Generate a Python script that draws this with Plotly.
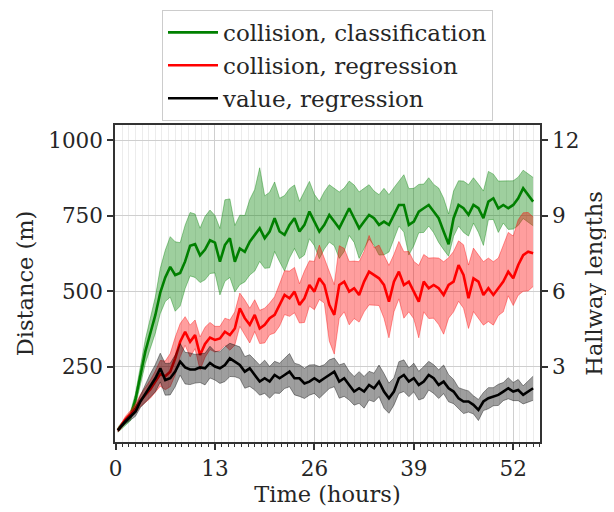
import plotly.graph_objects as go

# ---- data ----
hours = [0.3, 0.65, 1.3, 1.95, 2.6, 3.25, 3.9, 4.55, 5.2, 5.85, 6.5, 7.15, 7.8, 8.45, 9.1, 9.75,
         10.4, 11.05, 11.7, 12.35, 13.0, 13.65, 14.3, 14.95, 15.6, 16.25, 16.9, 17.55, 18.2, 18.85,
         19.5, 20.15, 20.8, 21.45, 22.1, 22.75, 23.4, 24.05, 24.7, 25.35, 26.0, 26.65, 27.3, 27.95,
         28.6, 29.25, 29.9, 30.55, 31.2, 31.85, 32.5, 33.15, 33.8, 34.45, 35.1, 35.75, 36.4, 37.05,
         37.7, 38.35, 39.0, 39.65, 40.3, 40.95, 41.6, 42.25, 42.9, 43.55, 44.2, 44.85, 45.5, 46.15,
         46.8, 47.45, 48.1, 48.75, 49.4, 50.05, 50.7, 51.35, 52.0, 52.65, 53.3, 53.95, 54.6]

green_mean = [40, 50, 65, 85, 140, 225, 300, 360, 420, 495, 545, 580, 553, 560, 598, 650, 655, 618, 637, 668, 660,
              597, 652, 675, 597, 641, 630, 663, 686, 708, 675, 697, 741, 697, 686, 719, 741, 697, 719, 763, 730, 697, 719,
              752, 730, 708, 741, 774, 741, 708, 730, 752, 741, 719, 730, 719, 752, 785, 785, 719, 730, 763, 774, 785,
              763, 741, 697, 655, 741, 785, 774, 752, 785, 774, 741, 796, 807, 774, 785, 774, 785, 807, 840, 818, 796]
green_up = [8, 10, 12, 15, 20, 30, 40, 50, 60,
            80, 90, 100, 110, 100, 120, 110, 100, 90, 110, 100, 90,
            110, 150, 130, 120, 110, 120, 140, 150, 200, 140, 130, 120, 110, 130, 120, 110, 100, 110, 100, 90, 100, 110,
            100, 110, 120, 100, 90, 110, 120, 110, 100, 90, 100, 110, 100, 90, 80, 100, 120, 110, 90, 80, 90,
            90, 100, 110, 100, 90, 80, 90, 100, 90, 80, 90, 100, 80, 90, 80, 90, 80, 70, 60, 70, 80]
green_down = [8, 10, 12, 15, 20, 30, 40, 50, 60,
              70, 80, 100, 120, 110, 90, 100, 110, 90, 100, 110, 100,
              110, 120, 130, 100, 120, 100, 110, 120, 110, 100, 120, 110, 100, 120, 110, 100, 90, 100, 90, 80, 90, 80,
              90, 80, 100, 110, 90, 80, 100, 90, 80, 90, 100, 110, 90, 80, 70, 90, 100, 80, 70, 80, 70,
              70, 80, 60, 40, 60, 70, 80, 70, 60, 80, 90, 60, 70, 80, 60, 70, 80, 90, 100, 90, 80]

red_mean = [38, 50, 75, 92, 111, 137, 156, 175, 200, 225, 218, 233, 277, 332, 365, 332, 354, 288, 325, 346, 338,
            343, 365, 354, 376, 443, 410, 388, 421, 376, 388, 410, 421, 454, 487, 476, 498, 454, 476, 520, 498, 542, 520,
            454, 421, 520, 531, 498, 509, 487, 531, 564, 553, 542, 520, 465, 531, 564, 520, 531, 498, 465, 531, 509,
            520, 509, 487, 520, 531, 586, 553, 476, 542, 531, 487, 509, 487, 509, 531, 564, 542, 586, 619, 630, 625]
red_up = [5, 8, 10, 12, 15, 20, 25, 30, 35,
          45, 50, 60, 70, 60, 50, 55, 50, 60, 55, 50, 45,
          40, 45, 50, 55, 50, 60, 55, 50, 60, 55, 50, 60, 70, 80, 90, 80, 70, 90, 80, 100, 110, 90,
          110, 100, 130, 110, 100, 90, 110, 100, 120, 90, 110, 100, 120, 90, 100, 110, 100, 100, 120, 90, 100,
          90, 100, 110, 90, 100, 80, 100, 110, 100, 90, 110, 100, 110, 100, 120, 130, 140, 150, 140, 130, 120]
red_down = [5, 8, 10, 12, 15, 20, 25, 30, 35,
            40, 45, 50, 55, 50, 45, 50, 45, 50, 45, 40, 40,
            40, 45, 50, 55, 60, 55, 60, 55, 50, 60, 55, 60, 70, 65, 60, 70, 60, 80, 70, 60, 70, 60,
            120, 130, 110, 100, 110, 100, 90, 100, 110, 100, 90, 110, 120, 100, 90, 110, 100, 90, 120, 100, 100,
            110, 120, 130, 110, 100, 120, 110, 100, 110, 120, 100, 110, 100, 90, 100, 80, 90, 100, 120, 130, 110]

black_mean = [38, 50, 68, 83, 100, 134, 161, 186, 211, 244, 205, 211, 233, 266, 247, 240, 240, 247, 244, 262, 250,
              244, 255, 277, 266, 255, 233, 244, 222, 200, 211, 200, 222, 211, 222, 233, 211, 211, 194, 200, 211, 200, 211,
              222, 233, 200, 211, 189, 167, 178, 167, 189, 178, 200, 167, 145, 167, 211, 222, 200, 211, 189, 200, 222,
              211, 189, 200, 178, 167, 145, 134, 134, 123, 106, 134, 145, 150, 156, 167, 178, 167, 172, 156, 167, 178]
black_up = [5, 6, 8, 10, 15, 20, 30, 40, 45,
            50, 55, 50, 55, 60, 50, 55, 50, 45, 50, 55, 50,
            55, 60, 50, 55, 60, 50, 45, 50, 55, 60, 50, 45, 50, 55, 60, 50, 45, 50, 55, 45, 50, 45,
            50, 45, 55, 50, 45, 50, 55, 50, 45, 50, 55, 60, 50, 45, 55, 50, 45, 50, 45, 50, 45,
            45, 50, 55, 45, 40, 35, 40, 35, 30, 35, 30, 35, 30, 35, 30, 35, 30, 35, 30, 35, 40]
black_down = [5, 6, 8, 10, 15, 20, 30, 40, 45,
              45, 50, 55, 50, 45, 55, 50, 45, 50, 55, 50, 45,
              50, 55, 60, 50, 45, 55, 60, 50, 45, 50, 55, 60, 50, 45, 50, 55, 60, 50, 45, 50, 55, 50,
              45, 50, 55, 60, 50, 45, 50, 55, 50, 45, 50, 55, 50, 45, 50, 55, 50, 45, 50, 55, 50,
              50, 45, 40, 45, 40, 35, 40, 35, 30, 35, 30, 35, 30, 35, 30, 35, 30, 35, 30, 35, 40]

series_names = ["collision, classification", "collision, regression", "value, regression"]
x_ticks = [0, 13, 26, 39, 52]
y_ticks = [250, 500, 750, 1000]
y2_ticks = [3, 6, 9, 12]
hallway_length_m = 1000 / 12

FONT = "DejaVu Serif"
FS_TICK = 21.5
FS_TITLE = 22.5
FS_LEG = 23

fig = go.Figure()

groups = [
    (series_names[0], green_mean, green_up, green_down, "#008000", "rgba(0,128,0,0.38)"),
    (series_names[1], red_mean, red_up, red_down, "#ff0000", "rgba(255,0,0,0.38)"),
    (series_names[2], black_mean, black_up, black_down, "#000000", "rgba(0,0,0,0.38)"),
]
for name, mean, up, down, col, fillcol in groups:
    assert len(mean) == len(up) == len(down) == len(hours)
    lower = [m - d for m, d in zip(mean, down)]
    upper = [m + u for m, u in zip(mean, up)]
    fig.add_trace(go.Scatter(x=hours, y=lower, mode="lines", line=dict(color=fillcol, width=1),
                             showlegend=False, hoverinfo="skip"))
    fig.add_trace(go.Scatter(x=hours, y=upper, mode="lines", line=dict(color=fillcol, width=1),
                             fill="tonexty", fillcolor=fillcol, showlegend=False, hoverinfo="skip"))
    fig.add_trace(go.Scatter(x=hours, y=mean, mode="lines", name=name, line=dict(color=col, width=2.6)))

# invisible trace so the secondary (hallway-length) axis is drawn
fig.add_trace(go.Scatter(x=hours[:1], y=[hours[0] * 0], yaxis="y2", mode="lines",
                         showlegend=False, hoverinfo="skip"))

y_top = 1049.7
axis_common = dict(showline=True, linecolor="#333333", linewidth=1.5, ticks="outside",
                   ticklen=6, tickwidth=1.5, tickcolor="#333333", automargin=False,
                   tickfont=dict(family=FONT, size=FS_TICK, color="#262626"), zeroline=False)

fig.update_layout(
    width=606, height=504,
    margin=dict(l=107, r=74, t=117, b=70, autoexpand=False),
    paper_bgcolor="white", plot_bgcolor="white",
    font=dict(family=FONT, size=FS_TICK, color="#262626"),
    xaxis=dict(range=[-0.07, 55.5], tickvals=x_ticks, mirror=True, showgrid=True,
               gridcolor="#cfcfcf", gridwidth=1,
               minor=dict(dtick=13 / 15, tick0=0, ticks="outside", ticklen=3, tickwidth=1,
                          tickcolor="#333333", showgrid=True, gridcolor="#ececec", gridwidth=1),
               title=dict(text="Time (hours)", font=dict(family=FONT, size=FS_TITLE), standoff=6),
               **axis_common),
    yaxis=dict(range=[0, y_top], tickvals=y_ticks, showgrid=True, gridcolor="#cfcfcf",
               title=dict(text="Distance (m)", font=dict(family=FONT, size=FS_TITLE), standoff=8),
               **axis_common),
    yaxis2=dict(range=[0, y_top / hallway_length_m], tickvals=y2_ticks, overlaying="y", side="right",
                showgrid=False,
                title=dict(text="Hallway lengths", font=dict(family=FONT, size=FS_TITLE), standoff=8),
                **axis_common),
    legend=dict(x=0.5, xanchor="center", y=1.363, yanchor="top", bgcolor="white",
                traceorder="normal", itemwidth=50,
                bordercolor="#cccccc", borderwidth=1, font=dict(family=FONT, size=FS_LEG, color="#262626")),
    showlegend=True,
)

fig.write_html("out.html")
